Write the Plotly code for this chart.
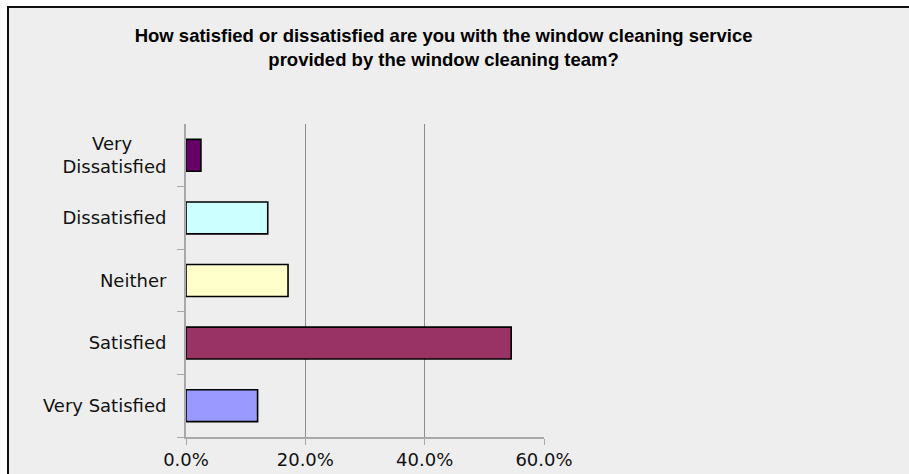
import plotly.graph_objects as go

categories = ["Very Dissatisfied", "Dissatisfied", "Neither", "Satisfied", "Very Satisfied"]
tick_labels = ["Very\u00a0\u00a0\u00a0\u00a0\u00a0\u00a0<br>Dissatisfied", "Dissatisfied", "Neither", "Satisfied", "Very Satisfied"]
values = [2.5, 13.7, 17.1, 54.5, 12.0]
colors = ["#660066", "#CCFFFF", "#FFFFCC", "#993366", "#9999FF"]
x_ticks = [0, 20, 40, 60]
x_tick_labels = ["0.0%", "20.0%", "40.0%", "60.0%"]

W, H = 909, 474
L, R, T, B = 186, 544, 124, 437

def px(x):
    return (x - L) / (R - L)

def py(y):
    return (B - y) / (B - T)

fig = go.Figure(go.Bar(
    x=values, y=categories, orientation="h",
    marker=dict(color=colors, line=dict(color="#000000", width=1.6)),
    width=0.51,
))

fig.update_layout(
    width=W, height=H,
    margin=dict(l=L, r=W - R, t=T, b=H - B, pad=0, autoexpand=False),
    paper_bgcolor="#FFFFFF",
    plot_bgcolor="rgba(0,0,0,0)",
    showlegend=False,
    font=dict(family="DejaVu Sans", size=18, color="#111111"),
    title=dict(
        text="How satisfied or dissatisfied are you with the window cleaning service<br>provided by the window cleaning team?",
        x=0.488, xref="container", xanchor="center",
        y=1 - 42 / H, yref="container", yanchor="top",
        font=dict(family="Liberation Sans", size=18.5, color="#000000", weight="bold"),
    ),
    shapes=[dict(
        type="rect", xref="paper", yref="paper", layer="below",
        x0=px(8), x1=px(930), y0=py(7), y1=py(500),
        fillcolor="#EEEEEE", line=dict(color="#111111", width=2),
    )],
)

fig.update_xaxes(
    range=[0, 60], tickvals=x_ticks, ticktext=x_tick_labels,
    showgrid=True, gridcolor="#8C8C8C", gridwidth=1,
    showline=True, linecolor="#A8A8A8", linewidth=1.5,
    ticks="outside", ticklen=6, tickcolor="#A8A8A8",
    ticklabelstandoff=0, automargin=False,
    zeroline=False, fixedrange=True,
)
fig.update_yaxes(
    categoryorder="array", categoryarray=categories[::-1],
    tickvals=categories, ticktext=tick_labels,
    tickson="boundaries",
    showgrid=False, showline=True, linecolor="#A8A8A8", linewidth=2,
    ticks="outside", ticklen=7, tickcolor="#A8A8A8",
    ticklabelstandoff=14, automargin=False,
    zeroline=False, fixedrange=True,
)

fig.write_html("out.html")
